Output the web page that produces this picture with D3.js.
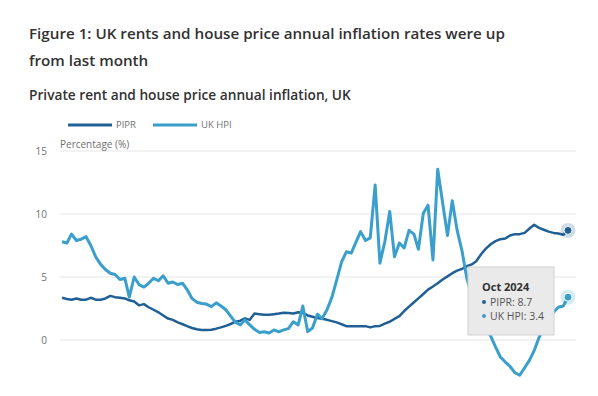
<!DOCTYPE html>
<html>
<head>
<meta charset="utf-8">
<script src="https://cdn.jsdelivr.net/npm/d3@7"></script>
<style>
  body { margin: 0; background: #fff; font-family: "Open Sans", sans-serif; }
  svg { display: block; }
</style>
</head>
<body>
<svg id="chart"></svg>
<script>
// Monthly series, Jan 2016 to Oct 2024
const startMonth = new Date(2016, 0, 1);
const endMonth = new Date(2024, 9, 1);

const pipr = [
  3.35, 3.25, 3.2, 3.3, 3.2, 3.2, 3.35, 3.2, 3.2, 3.3, 3.5, 3.4,
  3.35, 3.3, 3.15, 3.05, 2.75, 2.85, 2.6, 2.4, 2.2, 1.95, 1.7, 1.6,
  1.4, 1.25, 1.1, 0.95, 0.85, 0.8, 0.8, 0.82, 0.9, 1.0, 1.12, 1.27,
  1.45, 1.53, 1.72, 1.6, 2.1, 2.05, 2.0, 2.0, 2.05, 2.1, 2.17, 2.15,
  2.1, 2.2, 2.15, 1.95, 1.85, 1.75, 1.68, 1.6, 1.5, 1.4, 1.25, 1.1,
  1.1, 1.1, 1.1, 1.1, 1.0, 1.1, 1.12, 1.3, 1.45, 1.68, 1.9, 2.3,
  2.65, 3.0, 3.3, 3.65, 4.0, 4.25, 4.5, 4.8, 5.05, 5.3, 5.5, 5.65,
  5.85, 6.0, 6.25, 6.8, 7.25, 7.6, 7.85, 8.0, 8.05, 8.3, 8.4, 8.4,
  8.5, 8.85, 9.15, 8.9, 8.75, 8.6, 8.5, 8.45, 8.35, 8.7
];

const ukHpi = [
  7.8, 7.7, 8.4, 7.9, 8.0, 8.2, 7.5, 6.6, 6.0, 5.6, 5.3, 5.2,
  4.8, 4.9, 3.4, 5.0, 4.4, 4.2, 4.5, 4.9, 4.7, 5.1, 4.5, 4.6,
  4.4, 4.5, 4.0, 3.3, 3.0, 2.9, 2.85, 2.65, 2.95, 2.7, 2.4, 1.9,
  1.4, 1.2, 1.6, 1.2, 0.85, 0.6, 0.65, 0.55, 0.8, 0.65, 0.8, 0.9,
  1.45, 1.2, 2.7, 0.66, 0.95, 2.05, 1.7, 2.4, 3.4, 4.75, 6.2, 7.0,
  6.9, 7.8, 8.6, 7.9, 8.1, 12.3, 6.1, 7.8, 10.2, 6.6, 7.7, 7.3,
  8.7, 8.4, 7.2, 10.05, 10.7, 6.35, 13.55, 10.9, 8.3, 11.05, 8.7, 7.1,
  4.9, 3.5, 2.5, 1.6, 0.9, 0.3, -0.55, -1.35, -1.75, -2.1, -2.6, -2.8,
  -2.2, -1.6, -0.85, 0.2, 0.9, 1.6, 2.2, 2.6, 2.7, 3.4
];

const seriesNames = ["PIPR", "UK HPI"];
const seriesColors = ["#206095", "#3a9fcc"];
const yTicks = [0, 5, 10, 15];

const titleLines = [
  "Figure 1: UK rents and house price annual inflation rates were up",
  "from last month"
];
const subtitle = "Private rent and house price annual inflation, UK";
const tooltipTitle = "Oct 2024";

const width = 598;
const height = 396;

const svg = d3.select("#chart")
  .attr("width", width)
  .attr("height", height);

const months = d3.timeMonth.range(startMonth, d3.timeMonth.offset(endMonth, 1));

const x = d3.scaleTime()
  .domain([startMonth, endMonth])
  .range([62, 568]);

const y = d3.scaleLinear()
  .domain([-5, 15])
  .range([403, 151]);

// Titles
svg.selectAll(".title")
  .data(titleLines)
  .join("text")
  .attr("class", "title")
  .attr("x", 29)
  .attr("y", (d, i) => 39 + i * 26.5)
  .style("font-size", "15.2px")
  .style("font-weight", "600")
  .style("fill", "#323132")
  .text(d => d);

svg.append("text")
  .attr("x", 29)
  .attr("y", 100)
  .style("font-size", "13.7px")
  .style("font-weight", "600")
  .style("fill", "#323132")
  .text(subtitle);

// Legend
const legend = svg.append("g")
  .selectAll("g")
  .data(seriesNames)
  .join("g")
  .attr("transform", (d, i) => `translate(${68 + i * 85},125)`);

legend.append("line")
  .attr("x1", 0).attr("x2", 44)
  .attr("stroke", (d, i) => seriesColors[i])
  .attr("stroke-width", 3);

legend.append("text")
  .attr("x", 48)
  .attr("dy", "0.35em")
  .style("font-size", "9.5px")
  .style("fill", "#707070")
  .text(d => d);

// Gridlines and y labels
svg.append("g")
  .selectAll("line")
  .data(yTicks)
  .join("line")
  .attr("x1", 60).attr("x2", 576)
  .attr("y1", d => y(d)).attr("y2", d => y(d))
  .attr("stroke", "#e6e6e6")
  .attr("stroke-width", 1);

svg.append("g")
  .selectAll("text")
  .data(yTicks)
  .join("text")
  .attr("x", 47)
  .attr("y", d => y(d))
  .attr("dy", "0.35em")
  .attr("text-anchor", "end")
  .style("font-size", "10px")
  .style("fill", "#707070")
  .text(d => d);

svg.append("text")
  .attr("x", 60)
  .attr("y", 148)
  .style("font-size", "10px")
  .style("fill", "#707070")
  .text("Percentage (%)");

// Lines
const line = d3.line()
  .x((d, i) => x(months[i]))
  .y(d => y(d));

const seriesData = [pipr, ukHpi];
const widths = [2.5, 3];

svg.append("g")
  .selectAll("path")
  .data(seriesData)
  .join("path")
  .attr("fill", "none")
  .attr("stroke", (d, i) => seriesColors[i])
  .attr("stroke-width", (d, i) => widths[i])
  .attr("stroke-linejoin", "round")
  .attr("d", line);

// Hover markers at last month
const last = months.length - 1;
const markers = svg.append("g")
  .selectAll("g")
  .data(seriesData)
  .join("g")
  .attr("transform", d => `translate(${x(months[last])},${y(d[last])})`);

markers.append("circle")
  .attr("r", 7.5)
  .attr("fill", (d, i) => seriesColors[i])
  .attr("fill-opacity", 0.22);

markers.append("circle")
  .attr("r", 4)
  .attr("fill", (d, i) => seriesColors[i])
  .attr("stroke", "#fff")
  .attr("stroke-width", 1);

// Tooltip
const tip = svg.append("g").attr("transform", "translate(468,267)");

tip.append("rect")
  .attr("width", 86)
  .attr("height", 68)
  .attr("fill", "#eaeaea")
  .attr("stroke", "#d2d2d2");

tip.append("text")
  .attr("x", 14)
  .attr("y", 24)
  .style("font-size", "11px")
  .style("font-weight", "700")
  .style("fill", "#323132")
  .text(tooltipTitle);

const tipRows = tip.selectAll(".row")
  .data(seriesNames)
  .join("g")
  .attr("class", "row")
  .attr("transform", (d, i) => `translate(14,${38.5 + i * 14})`);

tipRows.append("circle")
  .attr("r", 2)
  .attr("cx", 2)
  .attr("cy", -3.5)
  .attr("fill", (d, i) => seriesColors[i]);

tipRows.append("text")
  .attr("x", 8)
  .style("font-size", "10.5px")
  .style("fill", "#555")
  .text((d, i) => `${d}: ${seriesData[i][last]}`);
</script>
</body>
</html>
